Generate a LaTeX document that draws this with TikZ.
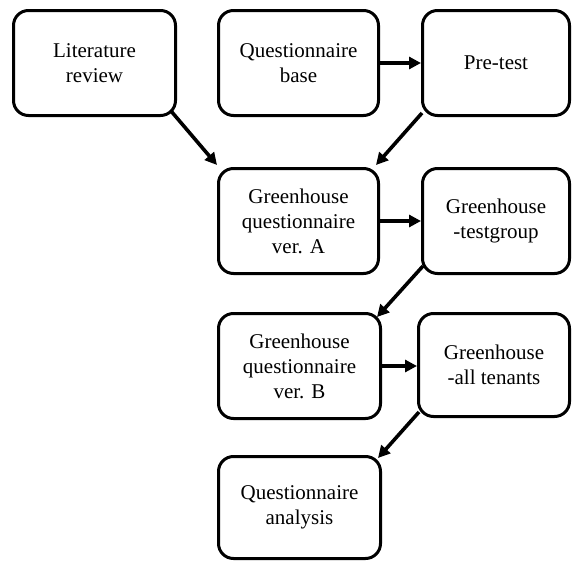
\documentclass[tikz,border=0pt]{standalone}
\usepackage{fontspec}
\setmainfont{Liberation Serif}
\usetikzlibrary{arrows.meta,calc}
\begin{document}
\begin{tikzpicture}[x=1pt,y=-1pt,
  box/.style={draw,line width=3pt,rounded corners=15pt,align=center,inner sep=0pt,
    font=\fontsize{21}{25}\selectfont},
  arr/.style={line width=3.6pt,-{Triangle[length=12pt,width=12pt]}}]
\useasboundingbox (0,0) rectangle (573,562);
\node[box,minimum width=162pt,minimum height=105pt] (lit) at (94.5,63) {Literature\\review};
\node[box,minimum width=160pt,minimum height=105pt] (qb) at (298.5,63) {Questionnaire\\base};
\node[box,minimum width=147pt,minimum height=105pt] (pre) at (496,63) {Pre-test};
\node[box,minimum width=160pt,minimum height=105pt] (verA) at (298.5,221) {Greenhouse\\questionnaire\\ver. A};
\node[box,minimum width=147pt,minimum height=105pt] (tg) at (496,221) {Greenhouse\\-testgroup};
\node[box,minimum width=162pt,minimum height=105pt] (verB) at (299.5,366) {Greenhouse\\questionnaire\\ver. B};
\node[box,minimum width=151pt,minimum height=103pt] (ten) at (494,365) {Greenhouse\\-all tenants};
\node[box,minimum width=162pt,minimum height=102pt] (ana) at (299.5,507.5) {Questionnaire\\analysis};
\draw[arr] ([shift={(-6,-6)}]lit.south east) -- ([shift={(0,-2)}]verA.north west);
\draw[arr] (qb.east) -- (qb.east -| pre.west);
\draw[arr] ([shift={(1,-4)}]pre.south west) -- ([shift={(-4,-2)}]verA.north east);
\draw[arr] (verA.east) -- (verA.east -| tg.west);
\draw[arr] ([shift={(2,-9)}]tg.south west) -- ([shift={(-5,5)}]verB.north east);
\draw[arr] (verB.east) -- (verB.east -| ten.west);
\draw[arr] ([shift={(2,-6)}]ten.south west) -- ([shift={(-4,3)}]ana.north east);
\end{tikzpicture}
\end{document}
